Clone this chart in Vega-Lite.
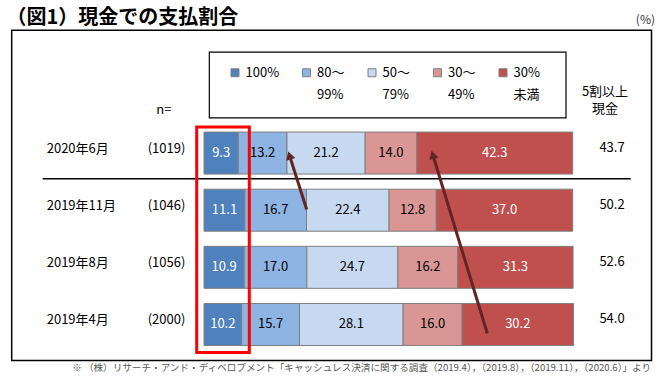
{
  "$schema": "https://vega.github.io/schema/vega-lite/v6.json",
  "width": 665,
  "height": 384,
  "padding": 0,
  "autosize": {"type": "none"},
  "background": "white",
  "config": {"view": {"stroke": null}, "font": "Noto Sans CJK JP"},
  "data": {"values": [{}]},
  "datasets": {
    "bars": [
      {"date": "2020年6月", "row": 1, "ci": 1, "cat": "100%", "value": 9.3},
      {"date": "2020年6月", "row": 1, "ci": 2, "cat": "80～99%", "value": 13.2},
      {"date": "2020年6月", "row": 1, "ci": 3, "cat": "50～79%", "value": 21.2},
      {"date": "2020年6月", "row": 1, "ci": 4, "cat": "30～49%", "value": 14.0},
      {"date": "2020年6月", "row": 1, "ci": 5, "cat": "30%未満", "value": 42.3},
      {"date": "2019年11月", "row": 2, "ci": 1, "cat": "100%", "value": 11.1},
      {"date": "2019年11月", "row": 2, "ci": 2, "cat": "80～99%", "value": 16.7},
      {"date": "2019年11月", "row": 2, "ci": 3, "cat": "50～79%", "value": 22.4},
      {"date": "2019年11月", "row": 2, "ci": 4, "cat": "30～49%", "value": 12.8},
      {"date": "2019年11月", "row": 2, "ci": 5, "cat": "30%未満", "value": 37.0},
      {"date": "2019年8月", "row": 3, "ci": 1, "cat": "100%", "value": 10.9},
      {"date": "2019年8月", "row": 3, "ci": 2, "cat": "80～99%", "value": 17.0},
      {"date": "2019年8月", "row": 3, "ci": 3, "cat": "50～79%", "value": 24.7},
      {"date": "2019年8月", "row": 3, "ci": 4, "cat": "30～49%", "value": 16.2},
      {"date": "2019年8月", "row": 3, "ci": 5, "cat": "30%未満", "value": 31.3},
      {"date": "2019年4月", "row": 4, "ci": 1, "cat": "100%", "value": 10.2},
      {"date": "2019年4月", "row": 4, "ci": 2, "cat": "80～99%", "value": 15.7},
      {"date": "2019年4月", "row": 4, "ci": 3, "cat": "50～79%", "value": 28.1},
      {"date": "2019年4月", "row": 4, "ci": 4, "cat": "30～49%", "value": 16.0},
      {"date": "2019年4月", "row": 4, "ci": 5, "cat": "30%未満", "value": 30.2}
    ],
    "rows": [
      {"date": "2020年6月", "row": 1, "n": "(1019)", "five": 43.7},
      {"date": "2019年11月", "row": 2, "n": "(1046)", "five": 50.2},
      {"date": "2019年8月", "row": 3, "n": "(1056)", "five": 52.6},
      {"date": "2019年4月", "row": 4, "n": "(2000)", "five": 54.0}
    ]
  },
  "layer": [
    {
      "mark": {"type": "rect", "fill": null, "stroke": "black", "strokeWidth": 1.5},
      "encoding": {
        "x": {"datum": -52.16, "type": "quantitative", "scale": {"domain": [-55.33, 125.03], "nice": false, "zero": false}, "axis": null},
        "x2": {"datum": 121.37},
        "y": {"datum": -1.148, "type": "quantitative", "scale": {"domain": [-1.591, 4.954], "nice": false, "zero": false, "reverse": true}, "axis": null},
        "y2": {"datum": 4.63}
      }
    },
    {
      "mark": {"type": "rect", "fill": null, "stroke": "black", "strokeWidth": 1.2},
      "encoding": {
        "x": {"datum": 1.44, "type": "quantitative"},
        "x2": {"datum": 98.18},
        "y": {"datum": -0.768, "type": "quantitative"},
        "y2": {"datum": 0.386}
      }
    },
    {
      "mark": {"type": "rule", "color": "black", "strokeWidth": 1.5},
      "encoding": {
        "x": {"datum": -43.75, "type": "quantitative"},
        "x2": {"datum": 115.73},
        "y": {"datum": 1.448, "type": "quantitative"}
      }
    },
    {
      "data": {"name": "bars"},
      "transform": [
        {"stack": "value", "groupby": ["date"], "sort": [{"field": "ci", "order": "ascending"}], "as": ["x0", "x1"]}
      ],
      "layer": [
        {
          "mark": {"type": "bar", "size": 42, "stroke": "#7f7f7f", "strokeWidth": 1},
          "encoding": {
            "x": {"field": "x0", "type": "quantitative"},
            "x2": {"field": "x1"},
            "y": {"field": "row", "type": "quantitative"},
            "color": {
              "field": "cat",
              "type": "nominal",
              "scale": {
                "domain": ["100%", "80～99%", "50～79%", "30～49%", "30%未満"],
                "range": ["#4F81BD", "#8EB4E3", "#C6D9F1", "#D99694", "#C0504D"]
              },
              "legend": {
                "orient": "none",
                "legendX": 228.5,
                "legendY": 66,
                "direction": "horizontal",
                "title": null,
                "padding": 0,
                "symbolType": "square",
                "symbolSize": 64,
                "symbolStrokeColor": "#7f7f7f",
                "symbolStrokeWidth": 1,
                "symbolOpacity": 1,
                "labelFont": "Noto Sans CJK JP",
                "labelFontSize": 13,
                "labelColor": "black",
                "labelOffset": 4,
                "columnPadding": 20.5,
                "labelExpr": "datum.label == '100%' ? ['100%', ''] : (indexof(datum.label, '～') > 0 ? [substring(datum.label, 0, indexof(datum.label, '～') + 1), substring(datum.label, indexof(datum.label, '～') + 1)] : [substring(datum.label, 0, 3), substring(datum.label, 3)])",
                "encode": {"labels": {"update": {"lineHeight": {"value": 22}}}}
              }
            }
          }
        },
        {
          "transform": [
            {"fold": ["x0", "x1"], "as": ["edge", "pos"]},
            {"aggregate": [{"op": "mean", "field": "pos", "as": "mid"}], "groupby": ["row", "ci", "value"]}
          ],
          "mark": {"type": "text", "fontSize": 13},
          "encoding": {
            "x": {"field": "mid", "type": "quantitative"},
            "y": {"field": "row", "type": "quantitative"},
            "text": {"field": "value", "type": "quantitative", "format": ".1f"},
            "color": {"condition": {"test": "datum.ci == 1 || datum.ci == 5", "value": "white"}, "value": "black"}
          }
        }
      ]
    },
    {
      "data": {"name": "rows"},
      "layer": [
        {
          "mark": {"type": "text", "fontSize": 13, "align": "left", "dy": -4, "color": "black"},
          "encoding": {
            "x": {"datum": -42.66, "type": "quantitative"},
            "y": {"field": "row", "type": "quantitative"},
            "text": {"field": "date"}
          }
        },
        {
          "mark": {"type": "text", "fontSize": 13, "align": "left", "dy": -4, "color": "black"},
          "encoding": {
            "x": {"datum": -15.27, "type": "quantitative"},
            "y": {"field": "row", "type": "quantitative"},
            "text": {"field": "n"}
          }
        },
        {
          "mark": {"type": "text", "fontSize": 13, "align": "center", "dy": -5, "color": "black"},
          "encoding": {
            "x": {"datum": 110.66, "type": "quantitative"},
            "y": {"field": "row", "type": "quantitative"},
            "text": {"field": "five", "type": "quantitative", "format": ".1f"}
          }
        }
      ]
    },
    {
      "mark": {"type": "rect", "fill": null, "stroke": "#FF0000", "strokeWidth": 3},
      "encoding": {
        "x": {"datum": -1.98, "type": "quantitative"},
        "x2": {"datum": 12.29},
        "y": {"datum": 0.545, "type": "quantitative"},
        "y2": {"datum": 4.489}
      }
    },
    {
      "mark": {"type": "rule", "color": "#632523", "strokeWidth": 3},
      "encoding": {
        "x": {"datum": 27.85, "type": "quantitative"},
        "x2": {"datum": 23.19},
        "y": {"datum": 1.988, "type": "quantitative"},
        "y2": {"datum": 1.042}
      }
    },
    {
      "mark": {"type": "point", "shape": "triangle-up", "filled": true, "color": "#632523", "opacity": 1, "size": 90, "angle": 343},
      "encoding": {
        "x": {"datum": 23.19, "type": "quantitative"},
        "y": {"datum": 1.042, "type": "quantitative"}
      }
    },
    {
      "mark": {"type": "rule", "color": "#632523", "strokeWidth": 3},
      "encoding": {
        "x": {"datum": 76.84, "type": "quantitative"},
        "x2": {"datum": 62.06},
        "y": {"datum": 4.158, "type": "quantitative"},
        "y2": {"datum": 1.03}
      }
    },
    {
      "mark": {"type": "point", "shape": "triangle-up", "filled": true, "color": "#632523", "opacity": 1, "size": 90, "angle": 344},
      "encoding": {
        "x": {"datum": 62.06, "type": "quantitative"},
        "y": {"datum": 1.03, "type": "quantitative"}
      }
    },
    {
      "mark": {"type": "text", "fontSize": 13, "align": "center", "color": "black"},
      "encoding": {
        "x": {"datum": -10.9, "type": "quantitative"},
        "y": {"datum": 0.24, "type": "quantitative"},
        "text": {"value": "n="}
      }
    },
    {
      "mark": {"type": "text", "fontSize": 13, "align": "center", "color": "black"},
      "encoding": {
        "x": {"datum": 108.76, "type": "quantitative"},
        "y": {"datum": -0.074, "type": "quantitative"},
        "text": {"value": "5割以上"}
      }
    },
    {
      "mark": {"type": "text", "fontSize": 13, "align": "center", "color": "black"},
      "encoding": {
        "x": {"datum": 108.76, "type": "quantitative"},
        "y": {"datum": 0.233, "type": "quantitative"},
        "text": {"value": "現金"}
      }
    },
    {
      "mark": {"type": "text", "fontSize": 12, "align": "right", "color": "#333333"},
      "encoding": {
        "x": {"datum": 122.32, "type": "quantitative"},
        "y": {"datum": -1.335, "type": "quantitative"},
        "text": {"value": "(%)"}
      }
    },
    {
      "mark": {"type": "text", "fontSize": 20, "fontWeight": "bold", "align": "left", "color": "black"},
      "encoding": {
        "x": {"datum": -53.6, "type": "quantitative"},
        "y": {"datum": -1.37, "type": "quantitative"},
        "text": {"value": "（図1）現金での支払割合"}
      }
    },
    {
      "mark": {"type": "text", "fontSize": 9.6, "align": "right", "color": "#595959"},
      "encoding": {
        "x": {"datum": 121.24, "type": "quantitative"},
        "y": {"datum": 4.761, "type": "quantitative"},
        "text": {"value": "※ （株）リサーチ・アンド・ディベロプメント「キャッシュレス決済に関する調査（2019.4），（2019.8），（2019.11），（2020.6）」より"}
      }
    }
  ]
}
